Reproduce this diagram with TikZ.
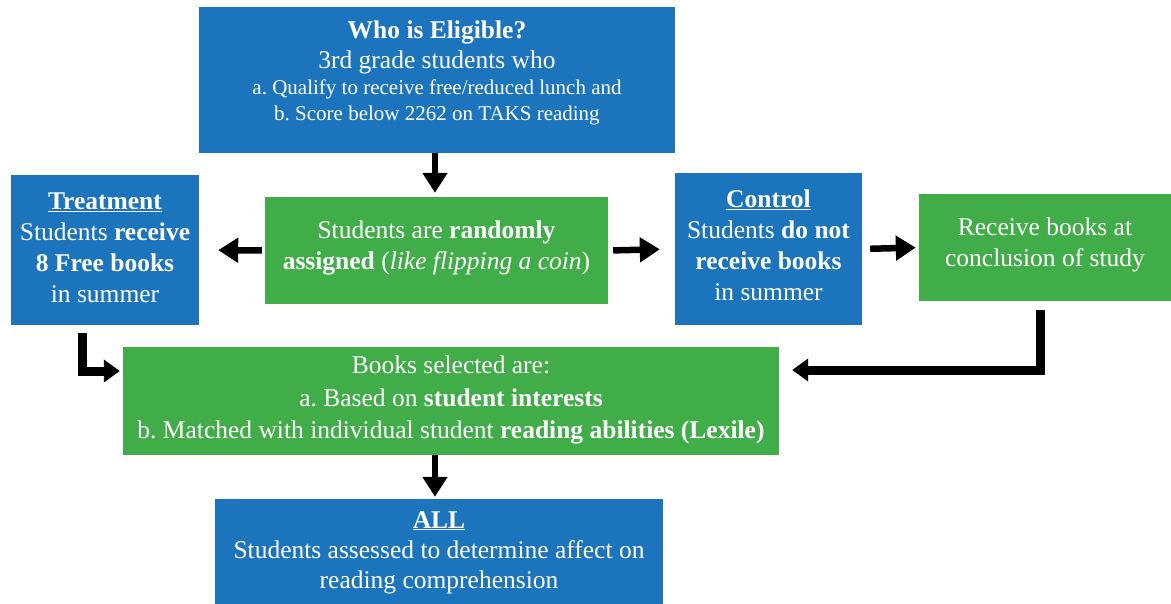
\documentclass[tikz,border=0pt]{standalone}
\usepackage{fontspec}
\setmainfont{Liberation Serif}
\frenchspacing
\usetikzlibrary{arrows.meta}
\definecolor{bblue}{HTML}{1C75BC}
\definecolor{bgreen}{HTML}{41AD49}
\tikzset{
  box/.style={rectangle, inner sep=0pt, text=white, align=center,
    font=\fontsize{25.5}{31}\selectfont},
  bluebox/.style={box, fill=bblue},
  greenbox/.style={box, fill=bgreen},
  txt/.style={inner sep=0pt, text=white, align=center, font=\fontsize{25.5}{31}\selectfont},
  arr/.style={line width=6.5pt, draw=black, -{Triangle[length=20pt,width=24pt]}},
  elbow/.style={line width=9pt, draw=black, -{Triangle[length=16pt,width=22pt]}},
}
\begin{document}
\begin{tikzpicture}[x=1pt,y=-1pt]
\useasboundingbox (0,0) rectangle (1171,604);
\node[bluebox, minimum width=476, minimum height=146] (elig) at (437,80) {};
\node[txt] (eligt) at ([yshift=7pt]elig.center)
  {\textbf{Who is Eligible?}\\[-1pt]
   3rd grade students who\\[-5pt]
   {\fontsize{21}{26}\selectfont a. Qualify to receive free/reduced lunch and}\\[-5pt]
   {\fontsize{21}{26}\selectfont b. Score below 2262 on TAKS reading}};
\node[bluebox, minimum width=188, minimum height=150] (treat) at (105,250) {};
\node[txt] (treatt) at ([yshift=2pt]treat.center)
  {\textbf{\underline{Treatment}}\\ Students \textbf{receive}\\ \textbf{8 Free books}\\ in summer};
\node[greenbox, minimum width=343, minimum height=107] (rand) at (436.5,250.5) {};
\node[txt] (randt) at ([yshift=3pt]rand.center)
  {Students are \textbf{randomly}\\ \textbf{assigned} (\textit{like flipping a coin})};
\node[bluebox, minimum width=187, minimum height=152] (ctrl) at (768.5,249) {};
\node[txt] (ctrlt) at ([yshift=4pt]ctrl.center)
  {\textbf{\underline{Control}}\\ Students \textbf{do not}\\ \textbf{receive books}\\ in summer};
\node[greenbox, minimum width=252, minimum height=107] (recv) at (1045,247.5) {};
\node[txt] (recvt) at ([yshift=3pt]recv.center)
  {Receive books at\\ conclusion of study};
\node[greenbox, minimum width=656, minimum height=108] (books) at (451,401) {};
\node[txt, font=\fontsize{25.5}{32.5}\selectfont] (bookst) at ([yshift=1pt]books.center)
  {Books selected are:\\ a. Based on \textbf{student interests}\\ b. Matched with individual student \textbf{reading abilities (Lexile)}};
\node[bluebox, minimum width=448, minimum height=105] (all) at (439,551.5) {};
\node[txt, font=\fontsize{25.5}{30}\selectfont] (allt) at ([yshift=-1pt]all.center)
  {\textbf{\underline{ALL}}\\ Students assessed to determine affect on\\ reading comprehension};
\draw[arr, shorten >=4pt] ([xshift=-2pt]elig.south) -- ([xshift=-2pt]elig.south |- rand.north);
\draw[arr, shorten <=3pt, shorten >=19pt] (rand.west) -- (treat.east);
\draw[arr, shorten <=5pt, shorten >=15pt] (rand.east) -- (ctrl.west);
\draw[arr, shorten <=8pt, shorten >=3pt] (ctrl.east) -- (recv.west);
\draw[elbow, shorten >=3pt] ([xshift=-23pt,yshift=-8pt]treat.south) |- ([yshift=30pt]books.west);
\draw[elbow, shorten >=13pt] ([xshift=-5pt,yshift=-9pt]recv.south) |- ([yshift=31pt]books.east);
\draw[arr, shorten >=2pt] ([xshift=-16pt]books.south) -- ([xshift=-16pt]books.south |- all.north);
\end{tikzpicture}
\end{document}
